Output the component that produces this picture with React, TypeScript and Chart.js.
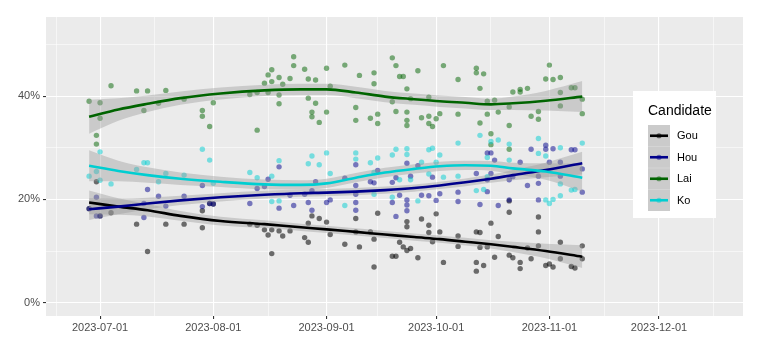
import React, { useEffect, useRef } from "react";
import { Chart, registerables } from "chart.js";

Chart.register(...registerables);

// ---------- DATA ----------
const ORIGIN = "2023-07-01";

const gouDates = ["2023-06-30","2023-06-28","2023-07-01","2023-07-04","2023-07-11","2023-07-14","2023-07-19","2023-07-24","2023-07-29","2023-07-29","2023-07-31","2023-08-01","2023-08-11","2023-08-13","2023-08-15","2023-08-16","2023-08-17","2023-08-19","2023-08-20","2023-08-22","2023-08-26","2023-08-27","2023-08-27","2023-08-28","2023-08-30","2023-09-01","2023-09-02","2023-09-06","2023-08-17","2023-09-09","2023-09-15","2023-09-23","2023-09-23","2023-09-27","2023-10-01","2023-09-29","2023-09-29","2023-10-02","2023-10-07","2023-10-12","2023-09-13","2023-09-14","2023-09-21","2023-09-22","2023-09-23","2023-09-24","2023-09-30","2023-10-07","2023-10-13","2023-10-15","2023-09-10","2023-09-19","2023-09-20","2023-09-26","2023-09-14","2023-10-03","2023-10-12","2023-10-12","2023-10-14","2023-09-09","2023-10-16","2023-10-18","2023-10-21","2023-10-21","2023-10-13","2023-10-17","2023-10-21","2023-10-22","2023-10-24","2023-10-24","2023-10-27","2023-10-26","2023-10-29","2023-10-29","2023-10-29","2023-10-31","2023-11-01","2023-11-02","2023-11-04","2023-11-04","2023-11-07","2023-11-08","2023-11-10","2023-11-10"];
const gouValues = [23.4,18.2,16.8,17.4,15.2,9.9,15.2,15.2,17.8,14.5,19.2,19.1,15.2,15.0,14.1,13.1,14.1,13.9,12.9,13.9,12.6,11.7,15.4,16.8,16.3,15.6,13.2,11.3,9.5,16.3,17.3,15.7,14.7,16.2,17.2,15.0,13.6,13.7,12.9,13.7,13.7,12.3,11.7,10.8,10.1,10.5,11.8,10.9,10.7,10.8,10.8,9.0,9.0,8.7,6.9,7.8,7.8,6.1,7.2,13.7,15.4,12.8,19.7,17.5,13.6,8.8,9.2,8.7,7.8,6.6,8.5,10.6,16.6,13.7,11.0,7.2,7.5,6.9,11.7,8.5,7.0,6.7,11.0,8.5];

const houDates = ["2023-06-28","2023-06-30","2023-06-30","2023-07-01","2023-07-14","2023-07-13","2023-07-13","2023-07-17","2023-07-19","2023-07-24","2023-07-29","2023-07-29","2023-07-31","2023-08-01","2023-08-19","2023-08-16","2023-08-13","2023-08-15","2023-08-11","2023-08-19","2023-08-22","2023-08-23","2023-08-26","2023-08-28","2023-08-29","2023-08-27","2023-08-28","2023-09-01","2023-09-02","2023-09-06","2023-09-09","2023-09-09","2023-09-09","2023-09-09","2023-09-09","2023-09-13","2023-09-14","2023-09-15","2023-09-19","2023-09-20","2023-09-21","2023-09-19","2023-09-23","2023-09-24","2023-09-26","2023-09-23","2023-09-23","2023-09-23","2023-09-20","2023-09-27","2023-09-29","2023-09-30","2023-10-01","2023-10-02","2023-10-07","2023-10-07","2023-10-12","2023-10-13","2023-10-15","2023-10-15","2023-10-16","2023-10-17","2023-10-16","2023-10-15","2023-10-18","2023-10-21","2023-10-22","2023-10-24","2023-10-26","2023-10-27","2023-10-29","2023-10-29","2023-10-29","2023-10-31","2023-10-31","2023-11-01","2023-11-02","2023-11-04","2023-11-04","2023-11-07","2023-11-08","2023-11-10","2023-11-10","2023-10-21"];
const houValues = [18.2,20.4,16.8,16.8,21.9,19.2,16.5,20.6,18.7,20.6,22.7,18.6,19.2,19.1,26.3,23.9,22.1,22.5,19.2,18.3,20.8,18.8,21.0,21.7,23.4,19.4,17.9,19.4,19.9,24.1,26.7,19.4,22.7,21.0,17.9,23.4,23.2,25.6,23.3,24.2,20.8,19.4,27.0,24.5,26.5,19.9,18.9,17.8,16.7,20.8,20.7,24.3,19.8,21.1,21.4,19.6,25.0,19.0,29.0,23.8,29.0,27.6,25.0,21.5,18.8,23.8,24.4,27.2,22.7,29.7,24.5,23.1,19.9,29.7,30.5,27.2,29.8,27.2,24.5,29.6,29.6,25.9,21.4,19.9];

const laiDates = ["2023-06-28","2023-07-01","2023-07-01","2023-07-04","2023-06-30","2023-06-30","2023-07-11","2023-07-14","2023-07-13","2023-07-19","2023-07-17","2023-07-24","2023-07-29","2023-07-29","2023-07-31","2023-08-01","2023-08-23","2023-08-23","2023-08-17","2023-08-16","2023-08-19","2023-08-22","2023-08-26","2023-08-27","2023-08-29","2023-09-01","2023-09-06","2023-09-02","2023-08-15","2023-08-17","2023-08-20","2023-08-13","2023-08-11","2023-08-16","2023-08-19","2023-08-19","2023-08-27","2023-08-29","2023-08-28","2023-08-28","2023-08-30","2023-09-01","2023-08-13","2023-09-09","2023-09-09","2023-09-19","2023-09-20","2023-09-21","2023-09-22","2023-09-26","2023-09-14","2023-09-10","2023-09-14","2023-09-23","2023-09-19","2023-09-24","2023-09-29","2023-10-03","2023-10-07","2023-10-12","2023-10-12","2023-10-14","2023-10-13","2023-09-15","2023-09-15","2023-09-13","2023-09-20","2023-09-23","2023-09-23","2023-09-23","2023-09-27","2023-09-29","2023-09-29","2023-09-30","2023-10-01","2023-10-02","2023-10-07","2023-10-13","2023-10-15","2023-10-15","2023-10-17","2023-10-16","2023-10-18","2023-10-21","2023-10-21","2023-10-21","2023-10-22","2023-10-24","2023-10-24","2023-10-26","2023-10-27","2023-10-29","2023-10-29","2023-10-31","2023-11-01","2023-11-02","2023-11-04","2023-11-04","2023-11-04","2023-11-07","2023-11-08","2023-11-10","2023-11-10","2023-10-16"];
const laiValues = [39.0,38.7,35.7,42.0,32.4,30.7,41.0,41.0,37.2,41.1,38.6,39.4,37.2,36.1,34.1,38.7,47.6,45.9,45.1,44.1,43.6,43.4,45.2,43.3,43.1,45.4,46.0,41.9,42.5,42.8,42.3,40.7,40.3,40.7,40.2,38.5,39.6,38.6,36.9,36.0,34.9,36.9,33.4,37.8,35.3,47.4,45.9,43.8,43.8,44.9,44.5,44.0,42.4,41.4,38.9,39.5,39.8,45.9,43.2,45.4,44.5,44.3,41.5,36.5,34.7,35.7,37.0,36.9,35.3,34.3,35.8,36.1,34.7,34.1,35.6,36.6,36.5,34.8,36.5,39.0,39.2,32.7,36.9,37.9,34.3,29.7,40.8,41.3,40.8,41.5,36.1,37.0,35.5,43.3,46.0,43.2,43.6,40.7,38.1,41.6,41.6,39.4,36.6,30.6];

const koDates = ["2023-06-28","2023-06-30","2023-07-01","2023-07-01","2023-07-04","2023-07-13","2023-07-14","2023-07-11","2023-07-17","2023-07-19","2023-07-24","2023-07-29","2023-07-31","2023-08-01","2023-08-11","2023-08-13","2023-08-17","2023-08-19","2023-08-27","2023-08-28","2023-08-30","2023-09-01","2023-09-02","2023-09-06","2023-08-17","2023-08-19","2023-09-09","2023-09-09","2023-09-13","2023-09-15","2023-09-19","2023-09-20","2023-09-23","2023-09-23","2023-09-29","2023-09-30","2023-10-02","2023-09-27","2023-10-01","2023-10-07","2023-10-13","2023-10-15","2023-09-14","2023-09-21","2023-09-24","2023-09-29","2023-10-03","2023-10-07","2023-10-12","2023-10-14","2023-09-19","2023-09-26","2023-09-14","2023-10-16","2023-10-18","2023-10-21","2023-10-21","2023-10-15","2023-10-29","2023-10-29","2023-10-31","2023-11-04","2023-11-07","2023-11-08","2023-11-10","2023-10-31","2023-11-01","2023-11-02","2023-11-04","2023-11-04"];
const koValues = [24.5,25.4,29.2,23.7,23.0,27.1,27.1,25.8,23.4,25.0,24.7,29.7,27.6,23.1,25.2,24.2,24.5,27.5,26.9,28.4,26.7,29.0,25.0,18.8,19.6,19.7,29.0,27.8,27.1,28.0,28.6,29.7,29.8,28.7,29.6,29.9,28.6,27.2,27.2,30.9,32.4,28.1,25.2,23.8,23.8,24.9,24.3,24.5,21.7,21.9,20.4,19.7,21.0,31.2,31.5,30.7,27.6,24.4,31.8,28.9,28.4,30.0,21.8,21.9,30.9,19.9,19.2,20.0,20.7,23.0];

// smoothed trend (loess), with band half-widths
const fitDates = ["2023-06-28","2023-07-06","2023-07-14","2023-07-23","2023-08-03","2023-08-15","2023-08-25","2023-09-01","2023-09-09","2023-09-17","2023-09-25","2023-10-02","2023-10-09","2023-10-16","2023-10-22","2023-10-31","2023-11-10"];
const gouFit = [19.4,18.6,17.9,16.8,15.8,15.2,14.6,14.2,13.7,13.2,12.7,12.3,11.8,11.3,10.8,10.0,8.9];
const gouSe = [2.3,1.6,1.2,0.95,0.85,0.75,0.7,0.7,0.7,0.7,0.7,0.7,0.75,0.8,1.0,1.4,2.2];
const houFit = [18.1,18.6,19.2,19.8,20.4,20.9,21.2,21.3,21.5,21.8,22.2,22.7,23.3,24.0,24.7,25.7,27.0];
const houSe = [2.1,1.5,1.1,0.9,0.8,0.75,0.7,0.7,0.7,0.7,0.7,0.7,0.75,0.8,1.0,1.4,2.2];
const laiFit = [36.0,37.4,38.5,39.6,40.5,41.1,41.3,41.3,40.7,39.9,39.4,39.0,38.7,38.4,38.6,39.1,39.9];
const laiSe = [3.3,2.2,1.6,1.3,1.15,1.1,1.1,1.1,1.1,1.1,1.1,1.1,1.1,1.1,1.3,1.9,3.0];
const koFit = [26.5,25.5,24.7,24.0,23.4,22.9,22.8,23.1,24.2,25.2,25.9,26.4,26.6,26.5,26.0,25.4,24.2];
const koSe = [3.0,2.0,1.5,1.2,1.0,0.95,0.9,0.9,0.9,0.9,0.9,0.9,0.9,0.95,1.1,1.6,2.7];

const candidates = ["Gou", "Hou", "Lai", "Ko"];
const xTickDates = ["2023-07-01","2023-08-01","2023-09-01","2023-10-01","2023-11-01","2023-12-01"];
const xMinorDates = ["2023-06-19","2023-07-16","2023-08-16","2023-09-15","2023-10-16","2023-11-16","2023-12-16"];
const yTicks = [0, 20, 40];
const yMinor = [10, 30, 50];
const xLimits = ["2023-06-16", "2023-12-24"];
const yLimits = [-2.58, 55.31];

// ---------- STYLE ----------
const COLORS = ["#000000", "#00008B", "#006400", "#00CED1"];
const PT_COLORS = ["rgba(0,0,0,0.55)", "rgba(0,0,139,0.5)", "rgba(0,100,0,0.5)", "rgba(0,206,209,0.5)"];
const FONT = "'Liberation Sans', Arial, Helvetica, sans-serif";

const dayOf = (s: string) =>
  (Date.UTC(+s.slice(0, 4), +s.slice(5, 7) - 1, +s.slice(8, 10)) -
    Date.UTC(+ORIGIN.slice(0, 4), +ORIGIN.slice(5, 7) - 1, +ORIGIN.slice(8, 10))) / 86400000;

const pts = (ds: string[], vs: number[]) => ds.map((d, i) => ({ x: dayOf(d), y: vs[i] }));

const seriesDates = [gouDates, houDates, laiDates, koDates];
const seriesValues = [gouValues, houValues, laiValues, koValues];
const fits = [gouFit, houFit, laiFit, koFit];
const ses = [gouSe, houSe, laiSe, koSe];

const bgPlugin = {
  id: "panelBg",
  beforeDraw(chart: any) {
    const { ctx, chartArea: a } = chart;
    ctx.save();
    ctx.fillStyle = "#EBEBEB";
    ctx.fillRect(a.left, a.top, a.right - a.left, a.bottom - a.top);
    ctx.restore();
  },
};

const legendPlugin = {
  id: "ggLegend",
  afterDraw(chart: any) {
    const ctx = chart.ctx;
    ctx.save();
    ctx.fillStyle = "#FFFFFF";
    ctx.fillRect(633, 91, 83, 127);
    ctx.fillStyle = "#000000";
    ctx.font = `14px ${FONT}`;
    ctx.textBaseline = "middle";
    ctx.textAlign = "left";
    ctx.fillText("Candidate", 648, 111);
    const keyTop = 125;
    const keyH = 21.5;
    ctx.fillStyle = "#CBCBCB";
    ctx.fillRect(648, keyTop, 22, keyH * candidates.length);
    candidates.forEach((name, i) => {
      const cy = keyTop + keyH * i + keyH / 2;
      if (i > 0) {
        ctx.strokeStyle = "rgba(255,255,255,0.35)";
        ctx.lineWidth = 0.6;
        ctx.beginPath();
        ctx.moveTo(648, keyTop + keyH * i);
        ctx.lineTo(670, keyTop + keyH * i);
        ctx.stroke();
      }
      ctx.fillStyle = PT_COLORS[i];
      ctx.beginPath();
      ctx.arc(659, cy, 2.6, 0, Math.PI * 2);
      ctx.fill();
      ctx.strokeStyle = COLORS[i];
      ctx.lineWidth = 2.6;
      ctx.beginPath();
      ctx.moveTo(650, cy);
      ctx.lineTo(668, cy);
      ctx.stroke();
      ctx.fillStyle = "#000000";
      ctx.font = `11px ${FONT}`;
      ctx.fillText(name, 677, cy + 0.5);
    });
    ctx.restore();
  },
};

export default function App() {
  const canvasRef = useRef<HTMLCanvasElement>(null);

  useEffect(() => {
    const canvas = canvasRef.current;
    if (!canvas) return;

    const xMajor = xTickDates.map(dayOf);
    const xMinor = xMinorDates.map(dayOf);
    const xAll = [...xMajor, ...xMinor].sort((a, b) => a - b);
    const xLabel = new Map<number, string>();
    xTickDates.forEach((d) => xLabel.set(dayOf(d), d));
    const yAll = [...yTicks, ...yMinor].sort((a, b) => a - b);

    const datasets: any[] = [];
    // points
    candidates.forEach((name, i) => {
      datasets.push({
        type: "scatter",
        label: name + " polls",
        data: pts(seriesDates[i], seriesValues[i]),
        backgroundColor: PT_COLORS[i],
        borderWidth: 0,
        pointRadius: 2.7,
        order: 20 - i,
      });
    });
    // bands
    candidates.forEach((name, i) => {
      const hi = fits[i].map((v, k) => v + ses[i][k]);
      const lo = fits[i].map((v, k) => v - ses[i][k]);
      const idx = datasets.length;
      datasets.push({
        type: "line",
        label: name + " hi",
        data: pts(fitDates, hi),
        borderWidth: 0,
        borderColor: "rgba(0,0,0,0)",
        pointRadius: 0,
        cubicInterpolationMode: "monotone",
        fill: idx + 1,
        backgroundColor: "rgba(153,153,153,0.4)",
        order: 10 - i,
      });
      datasets.push({
        type: "line",
        label: name + " lo",
        data: pts(fitDates, lo),
        borderWidth: 0,
        borderColor: "rgba(0,0,0,0)",
        pointRadius: 0,
        cubicInterpolationMode: "monotone",
        fill: false,
        order: 10 - i,
      });
    });
    // fit lines
    candidates.forEach((name, i) => {
      datasets.push({
        type: "line",
        label: name,
        data: pts(fitDates, fits[i]),
        borderColor: COLORS[i],
        borderWidth: 2.6,
        pointRadius: 0,
        cubicInterpolationMode: "monotone",
        fill: false,
        order: 5 - i,
      });
    });

    const isXMajor = (v: number) => xMajor.includes(v);
    const isYMajor = (v: number) => yTicks.includes(v);

    const chart = new Chart(canvas, {
      type: "scatter",
      data: { datasets },
      plugins: [bgPlugin, legendPlugin],
      options: {
        animation: false,
        responsive: false,
        devicePixelRatio: 1,
        layout: { padding: { top: 17, right: 18, left: 0, bottom: 0 } },
        plugins: { legend: { display: false }, tooltip: { enabled: false } },
        scales: {
          x: {
            type: "linear",
            min: dayOf(xLimits[0]) + 0.2,
            max: dayOf(xLimits[1]),
            afterBuildTicks: (s: any) => {
              s.ticks = xAll.map((v) => ({ value: v }));
            },
            afterFit: (s: any) => {
              s.height = 41;
            },
            border: { display: false },
            grid: {
              color: "#FFFFFF",
              lineWidth: (c: any) => (isXMajor(c.tick?.value) ? 1.1 : 0.55),
              tickLength: 3,
              tickColor: (c: any) => (isXMajor(c.tick?.value) ? "#333333" : "rgba(0,0,0,0)"),
              tickWidth: 1.1,
            },
            ticks: {
              autoSkip: false,
              maxRotation: 0,
              minRotation: 0,
              padding: 2,
              color: "#4D4D4D",
              font: { family: FONT, size: 11 },
              callback: (v: any) => xLabel.get(Number(v)) ?? "",
            },
          },
          y: {
            type: "linear",
            min: yLimits[0],
            max: yLimits[1],
            afterBuildTicks: (s: any) => {
              s.ticks = yAll.map((v) => ({ value: v }));
            },
            afterFit: (s: any) => {
              s.width = 46;
            },
            border: { display: false },
            grid: {
              color: "#FFFFFF",
              lineWidth: (c: any) => (isYMajor(c.tick?.value) ? 1.1 : 0.55),
              tickLength: 3,
              tickColor: (c: any) => (isYMajor(c.tick?.value) ? "#333333" : "rgba(0,0,0,0)"),
              tickWidth: 1.1,
            },
            ticks: {
              autoSkip: false,
              padding: 3,
              color: "#4D4D4D",
              font: { family: FONT, size: 11 },
              callback: (v: any) => (isYMajor(Number(v)) ? `${v}%` : ""),
            },
          },
        },
      } as any,
    });

    return () => chart.destroy();
  }, []);

  return (
    <div style={{ position: "absolute", left: 0, top: 0, width: 761, height: 357, background: "#FFFFFF" }}>
      <canvas ref={canvasRef} width={761} height={357} />
    </div>
  );
}
